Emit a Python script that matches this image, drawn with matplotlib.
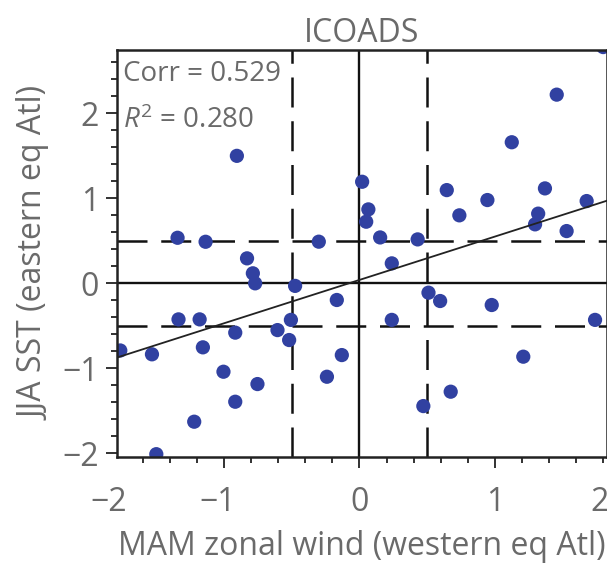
import numpy as np
import matplotlib
matplotlib.use('Agg')
import matplotlib.pyplot as plt
import matplotlib.transforms as mtransforms
from matplotlib.ticker import MultipleLocator

#Data
wind = [-0.905, -1.343, -1.136, -0.30, 0.02, 0.066, 0.05, 0.153, 0.43, 0.645,
        0.738, 0.945, 1.125, 1.457, 1.37, 1.32, 1.297, 1.53, 1.678, 1.80,
        -0.83, -0.787, -0.77, -0.475, -0.167, -1.336, -1.18, -0.506, -0.917, -0.605,
        -0.519, -1.766, -1.532, -1.156, -0.13, -1.004, -0.24, -0.753, -0.917, -1.22,
        -1.50, 0.239, 0.51, 0.596, 0.977, 0.239, 1.74, 1.21, 0.674, 0.472]
sst = [1.50, 0.536, 0.489, 0.49, 1.195, 0.87, 0.725, 0.54, 0.517, 1.097,
       0.80, 0.98, 1.66, 2.22, 1.117, 0.82, 0.694, 0.615, 0.968, 2.78,
       0.294, 0.118, 0.0, -0.03, -0.196, -0.424, -0.424, -0.43, -0.58, -0.55,
       -0.667, -0.79, -0.835, -0.753, -0.844, -1.04, -1.099, -1.185, -1.393, -1.628,
       -2.01, 0.235, -0.11, -0.208, -0.255, -0.43, -0.43, -0.863, -1.275, -1.444]

fit_slope = 0.51
fit_intercept = 0.04
corr = 0.529
r2 = 0.280

xlim = (-1.79, 1.826)
ylim = (-2.04, 2.745)

plt.rcParams['font.family'] = ['Open Sans', 'DejaVu Sans']
plt.rcParams['mathtext.fontset'] = 'custom'
plt.rcParams['mathtext.rm'] = 'Open Sans'
plt.rcParams['mathtext.it'] = 'Open Sans:italic'
grey = '#6a6a6a'
dot_color = '#3141a1'

fig = plt.figure(figsize=(6.07, 5.64), dpi=100)
ax = fig.add_axes([0.1928, 0.1902, 0.8067, 0.7211])

#Reference lines
ax.axhline(0, color='#111111', lw=1.7, zorder=1)
ax.axvline(0, color='#111111', lw=1.7, zorder=1)
for v in (-0.5, 0.5):
    ax.axhline(v, color='#111111', lw=1.8, dashes=(12, 5.5), zorder=1)
    ax.axvline(v, color='#111111', lw=1.8, dashes=(12, 5.5), zorder=1)

#Scatter
ax.scatter(wind, sst, s=105, color=dot_color, edgecolors='none', zorder=2)

#Fit line
xx = np.array(xlim)
ax.plot(xx, fit_slope * xx + fit_intercept, color='#222222', lw=1.3, zorder=3)

ax.set_xlim(*xlim)
ax.set_ylim(*ylim)

#Ticks
xpad = 13
ax.set_xticks([-1, 0, 1])
ax.set_xticklabels(['\u22121', '0', '1'])
ax.set_yticks([-2, -1, 0, 1, 2])
ax.set_yticklabels(['\u22122', '\u22121', '0', '1', '2'])
ax.xaxis.set_minor_locator(MultipleLocator(0.2))
ax.yaxis.set_minor_locator(MultipleLocator(0.2))
ax.tick_params(which='major', direction='out', length=8, width=1.3, color='#222222',
               labelsize=23, labelcolor=grey)
ax.tick_params(which='minor', direction='out', length=4.5, width=1.3, color='#222222')
ax.tick_params(axis='x', which='major', pad=xpad)
ax.tick_params(axis='y', which='major', pad=5)

#Shift negative labels so the digit sits on the tick
shift = mtransforms.ScaledTranslation(-6 / 100, 0, fig.dpi_scale_trans)
for lab in ax.get_xticklabels():
    if lab.get_text().startswith('\u2212'):
        lab.set_transform(lab.get_transform() + shift)

#End labels of x axis
trans = mtransforms.blended_transform_factory(ax.transData, ax.transAxes)
down = mtransforms.ScaledTranslation(0, -(8 + xpad) / 72, fig.dpi_scale_trans)
ax.text(-1.85, 0.0, '\u22122', transform=trans + down,
        ha='center', va='top', fontsize=23, color=grey)
ax.text(1.77, 0.0, '2', transform=trans + down,
        ha='center', va='top', fontsize=23, color=grey)

for sp in ax.spines.values():
    sp.set_linewidth(1.8)
    sp.set_color('#222222')

ax.set_xlabel('MAM zonal wind (western eq Atl)', fontsize=23, color=grey, labelpad=8)
ax.set_ylabel('JJA SST (eastern eq Atl)', fontsize=23, color=grey, labelpad=8)
ax.set_title('ICOADS', fontsize=23, color=grey, pad=6)

ax.text(0.012, 0.975, 'Corr = %.3f' % corr, transform=ax.transAxes, ha='left', va='top',
        fontsize=20, color=grey)
ax.text(0.012, 0.86, '$\\it{R}^2$ = %.3f' % r2, transform=ax.transAxes, ha='left', va='top',
        fontsize=20, color=grey)

fig.savefig('out.png', dpi=100)
